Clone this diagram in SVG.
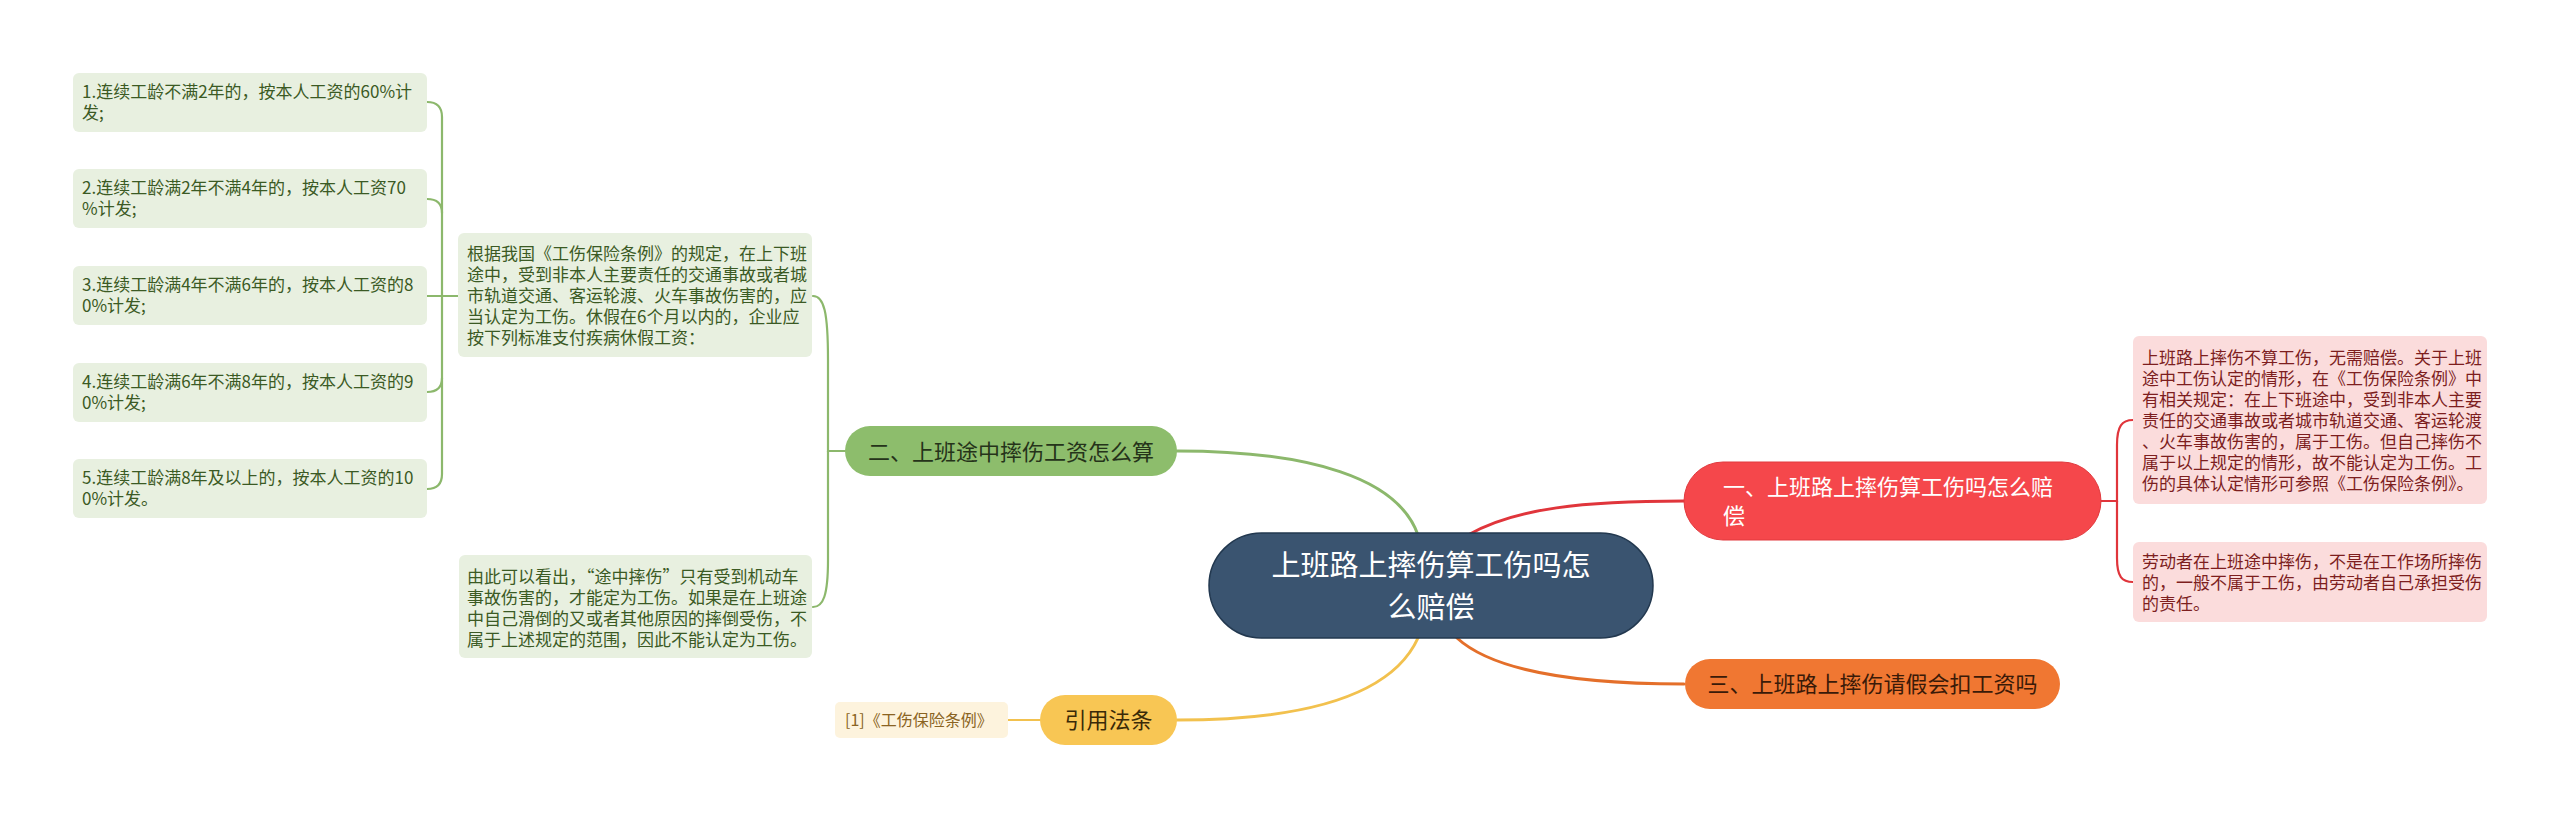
<svg xmlns="http://www.w3.org/2000/svg" width="2560" height="818" viewBox="0 0 2560 818">
<style>
text{font-family:"Noto Sans CJK SC","Noto Sans",sans-serif;}
.leafg{fill:#e8f0e0;}
.leafr{fill:#fbdcdc;}
.tg{font-size:17px;fill:#3b5a24;}
.tr{font-size:17px;fill:#7d1e1e;}
.c{fill:none;stroke-linecap:round;}
.cg{stroke:#8cb86c;}
.cr{stroke:#e0353b;}
.cy{stroke:#f2c14e;}
.co{stroke:#e46f2a;}
.main{stroke-width:3;}
.sub{stroke-width:2.2;}
</style>
<rect width="2560" height="818" fill="#ffffff"/>
<g id="connectors">
<path class="c cg main" d="M1418,535 C1398,478 1310,451 1177,451"/>
<path class="c cr main" d="M1468,535 C1515,508 1585,501 1684,501"/>
<path class="c cy main" d="M1418,638 C1392,695 1305,720 1177,720"/>
<path class="c co main" d="M1457,638 C1492,670 1572,684 1684,684"/>
<path class="c cg sub" d="M845,451 L828,451 L828,360 C828,312 824,296 813,296"/>
<path class="c cg sub" d="M828,451 L828,560 C828,596 823,607 813,607"/>
<path class="c cg sub" d="M458,296 L427,296"/>
<path class="c cg sub" d="M442,296 L442,117 Q442,102 427,102"/>
<path class="c cg sub" d="M442,213 Q442,199 427,199"/>
<path class="c cg sub" d="M442,296 L442,474 Q442,489 427,489"/>
<path class="c cg sub" d="M442,378 Q442,392 427,392"/>
<path class="c cr sub" d="M2101,501 L2117,501 L2117,445 C2117,426 2122,420 2133,420"/>
<path class="c cr sub" d="M2117,501 L2117,558 C2117,577 2122,582 2133,582"/>
<path class="c cy sub" d="M1008,720 L1040,720"/>
</g>
<g id="center">
<rect x="1209" y="533" width="444" height="105" rx="52.5" fill="#3a5470" stroke="#22384f" stroke-width="1.5"/>
<text x="1431" y="576" font-size="29" fill="#ffffff" text-anchor="middle">上班路上摔伤算工伤吗怎</text>
<text x="1431" y="618" font-size="29" fill="#ffffff" text-anchor="middle">么赔偿</text>
</g>
<g id="n2">
<rect x="845" y="426" width="332" height="50" rx="25" fill="#8dbd6c"/>
<text x="1011" y="460" font-size="22" fill="#25331a" text-anchor="middle">二、上班途中摔伤工资怎么算</text>
</g>
<g id="n1">
<rect x="1684" y="462" width="417" height="78" rx="39" fill="#f5474b" stroke="#e13a3e" stroke-width="1"/>
<text x="1723" y="495" font-size="22" fill="#ffffff">一、上班路上摔伤算工伤吗怎么赔</text>
<text x="1723" y="524" font-size="22" fill="#ffffff">偿</text>
</g>
<g id="n3">
<rect x="1685" y="659" width="375" height="50" rx="25" fill="#f07732"/>
<text x="1872.5" y="692" font-size="22" fill="#3a1a08" text-anchor="middle">三、上班路上摔伤请假会扣工资吗</text>
</g>
<g id="n4">
<rect x="1040" y="695" width="137" height="50" rx="25" fill="#f8c654"/>
<text x="1108.5" y="728" font-size="22" fill="#3a2a08" text-anchor="middle">引用法条</text>
</g>
<g id="cite">
<rect x="835" y="702" width="173" height="36" rx="5" fill="#fdf3dd"/>
<text x="845" y="726" font-size="16" fill="#8a6322">[1]《工伤保险条例》</text>
</g>
<g id="p1">
<rect class="leafg" x="458" y="233" width="354" height="124" rx="6"/>
<text class="tg" x="467"><tspan x="467" y="260">根据我国《工伤保险条例》的规定，在上下班</tspan><tspan x="467" y="281">途中，受到非本人主要责任的交通事故或者城</tspan><tspan x="467" y="302">市轨道交通、客运轮渡、火车事故伤害的，应</tspan><tspan x="467" y="323">当认定为工伤。休假在6个月以内的，企业应</tspan><tspan x="467" y="344">按下列标准支付疾病休假工资：</tspan></text>
</g>
<g id="p2">
<rect class="leafg" x="459" y="555" width="353" height="103" rx="6"/>
<text class="tg"><tspan x="467" y="583">由此可以看出，“途中摔伤”只有受到机动车</tspan><tspan x="467" y="604">事故伤害的，才能定为工伤。如果是在上班途</tspan><tspan x="467" y="625">中自己滑倒的又或者其他原因的摔倒受伤，不</tspan><tspan x="467" y="646">属于上述规定的范围，因此不能认定为工伤。</tspan></text>
</g>
<g id="l1">
<rect class="leafg" x="73" y="73" width="354" height="59" rx="6"/>
<text class="tg"><tspan x="82" y="98">1.连续工龄不满2年的，按本人工资的60%计</tspan><tspan x="82" y="119">发;</tspan></text>
</g>
<g id="l2">
<rect class="leafg" x="73" y="169" width="354" height="59" rx="6"/>
<text class="tg"><tspan x="82" y="194">2.连续工龄满2年不满4年的，按本人工资70</tspan><tspan x="82" y="215">%计发;</tspan></text>
</g>
<g id="l3">
<rect class="leafg" x="73" y="266" width="354" height="59" rx="6"/>
<text class="tg"><tspan x="82" y="291">3.连续工龄满4年不满6年的，按本人工资的8</tspan><tspan x="82" y="312">0%计发;</tspan></text>
</g>
<g id="l4">
<rect class="leafg" x="73" y="363" width="354" height="59" rx="6"/>
<text class="tg"><tspan x="82" y="388">4.连续工龄满6年不满8年的，按本人工资的9</tspan><tspan x="82" y="409">0%计发;</tspan></text>
</g>
<g id="l5">
<rect class="leafg" x="73" y="459" width="354" height="59" rx="6"/>
<text class="tg"><tspan x="82" y="484">5.连续工龄满8年及以上的，按本人工资的10</tspan><tspan x="82" y="505">0%计发。</tspan></text>
</g>
<g id="r1">
<rect class="leafr" x="2133" y="336" width="354" height="168" rx="6"/>
<text class="tr"><tspan x="2142" y="364">上班路上摔伤不算工伤，无需赔偿。关于上班</tspan><tspan x="2142" y="385">途中工伤认定的情形，在《工伤保险条例》中</tspan><tspan x="2142" y="406">有相关规定：在上下班途中，受到非本人主要</tspan><tspan x="2142" y="427">责任的交通事故或者城市轨道交通、客运轮渡</tspan><tspan x="2142" y="448">、火车事故伤害的，属于工伤。但自己摔伤不</tspan><tspan x="2142" y="469">属于以上规定的情形，故不能认定为工伤。工</tspan><tspan x="2142" y="490">伤的具体认定情形可参照《工伤保险条例》。</tspan></text>
</g>
<g id="r2">
<rect class="leafr" x="2133" y="542" width="354" height="80" rx="6"/>
<text class="tr"><tspan x="2142" y="568">劳动者在上班途中摔伤，不是在工作场所摔伤</tspan><tspan x="2142" y="589">的，一般不属于工伤，由劳动者自己承担受伤</tspan><tspan x="2142" y="610">的责任。</tspan></text>
</g>
</svg>
